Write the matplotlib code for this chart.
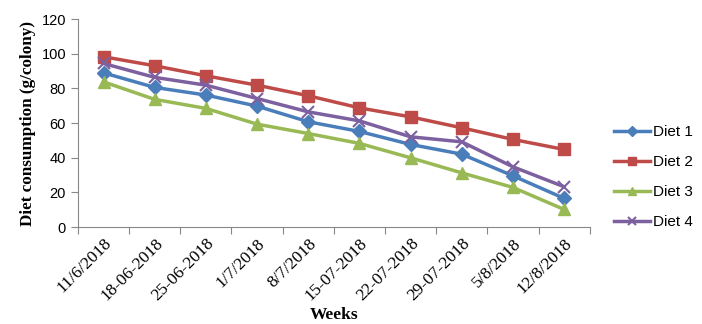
import numpy as np
import matplotlib.pyplot as plt

# data
weeks = ["11/6/2018", "18-06-2018", "25-06-2018", "1/7/2018", "8/7/2018",
         "15-07-2018", "22-07-2018", "29-07-2018", "5/8/2018", "12/8/2018"]
diet1 = [89.0, 80.6, 76.2, 69.8, 60.8, 55.2, 47.7, 42.1, 29.6, 16.6]
diet2 = [98.3, 93.1, 87.3, 81.9, 75.8, 68.8, 63.6, 57.3, 50.6, 44.8]
diet3 = [83.8, 73.7, 68.5, 59.4, 54.0, 48.3, 40.0, 31.3, 22.9, 10.2]
diet4 = [94.4, 86.4, 81.9, 74.2, 66.5, 61.3, 52.1, 49.2, 34.8, 23.3]

series = [
    ("Diet 1", diet1, "#4A7EBB", "D", 7),
    ("Diet 2", diet2, "#BE4B48", "s", 9),
    ("Diet 3", diet3, "#98B954", "^", 9),
    ("Diet 4", diet4, "#7D60A0", "x", 9),
]

fig = plt.figure(figsize=(7.02, 3.24), dpi=100)
ax = fig.add_axes([0.111, 0.299, 0.729, 0.642])

x = np.arange(len(weeks))
for name, vals, col, mk, ms in series:
    ax.plot(x, vals, color=col, lw=2.5, marker=mk, markersize=ms,
            markeredgewidth=1.5 if mk == "x" else 1, label=name)

ax.set_xlim(-0.5, len(weeks) - 0.5)
ax.set_ylim(0, 120)
ax.set_yticks(np.arange(0, 121, 20))

# ticks on category boundaries, labels at category centres
ax.set_xticks(np.arange(-0.5, len(weeks), 1.0))
ax.set_xticklabels([])
ax.set_xticks(x, minor=True)
ax.set_xticklabels(weeks, minor=True, rotation=45, ha="right",
                   rotation_mode="anchor", family="Liberation Serif", fontsize=12.5)
ax.tick_params(axis="x", which="minor", length=0, pad=6)
ax.tick_params(axis="x", which="major", length=5, color="#888888")
ax.tick_params(axis="y", length=5, color="#888888", labelsize=10.5)
for lab in ax.get_yticklabels():
    lab.set_family("Liberation Sans")

for s in ["top", "right"]:
    ax.spines[s].set_visible(False)
for s in ["left", "bottom"]:
    ax.spines[s].set_color("#888888")

ax.set_ylabel("Diet consumption (g/colony)", family="Liberation Serif",
              fontweight="bold", fontsize=12.3, labelpad=4)
ax.set_xlabel("Weeks", family="Liberation Serif", fontweight="bold",
              fontsize=12.5, labelpad=2)

leg = ax.legend(loc="center left", bbox_to_anchor=(1.02, 0.24), frameon=False,
                prop={"family": "Liberation Sans", "size": 11},
                handlelength=2.4, handletextpad=0.15, labelspacing=1.05,
                markerscale=0.7)

fig.savefig("out.png", dpi=100)
